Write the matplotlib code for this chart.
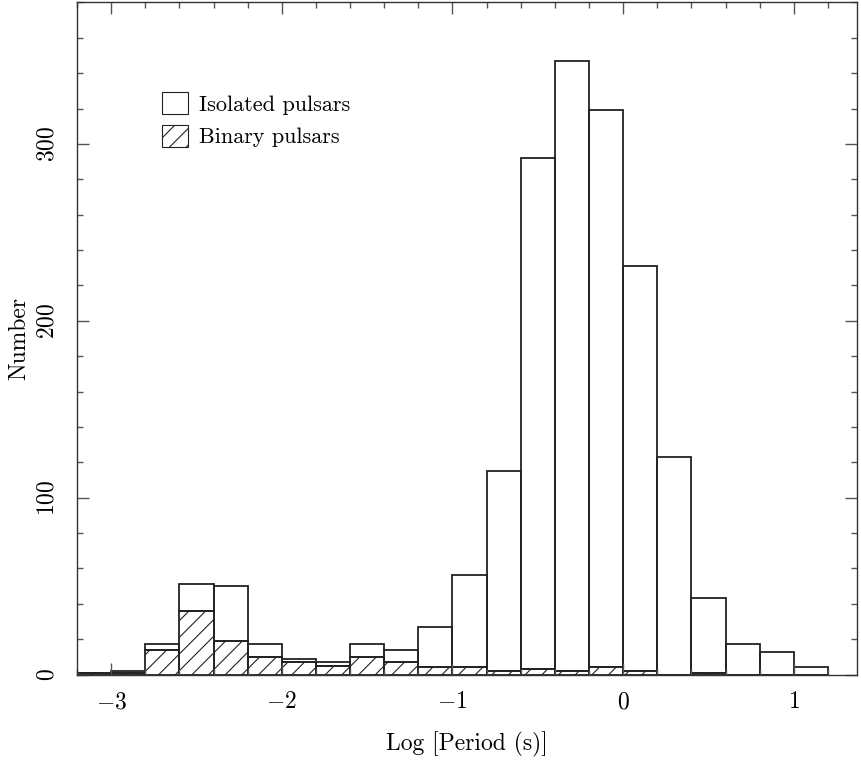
import matplotlib
matplotlib.use("Agg")
import matplotlib.pyplot as plt
from matplotlib.patches import Patch
from matplotlib.ticker import MultipleLocator
import numpy as np

plt.rcParams['font.family'] = 'cmr10'
plt.rcParams['mathtext.fontset'] = 'cm'
plt.rcParams['axes.formatter.use_mathtext'] = True
plt.rcParams['hatch.linewidth'] = 0.8

# left edges of the log(P) bins, width 0.2
bin_left = [-3.2, -3.0, -2.8, -2.6, -2.4, -2.2, -2.0, -1.8, -1.6, -1.4, -1.2,
            -1.0, -0.8, -0.6, -0.4, -0.2, 0.0, 0.2, 0.4, 0.6, 0.8, 1.0]
bin_width = 0.2
# total counts per bin
total = [1, 2, 17, 51, 50, 17, 9, 7, 17, 14, 27,
         56, 115, 292, 347, 319, 231, 123, 43, 17, 13, 4]
# binary pulsars per bin
binary = [1, 1, 14, 36, 19, 10, 7, 5, 10, 7, 4,
          4, 2, 3, 2, 4, 2, 0, 1, 0, 0, 0]

total = np.array(total)
binary = np.array(binary)
isolated = total - binary

ec = '#222222'
fig = plt.figure(figsize=(8.61, 7.62), dpi=100)
ax = fig.add_axes([0.0894, 0.1148, 0.906, 0.882])

ax.bar(bin_left, binary, width=bin_width, align='edge', fill=False,
       edgecolor=ec, linewidth=1.3, hatch='//')
ax.bar(bin_left, isolated, bottom=binary, width=bin_width, align='edge',
       fill=False, edgecolor=ec, linewidth=1.3)

ax.set_xlim(-3.2, 1.37)
ax.set_ylim(0, 380)
ax.xaxis.set_major_locator(MultipleLocator(1))
ax.xaxis.set_minor_locator(MultipleLocator(0.2))
ax.yaxis.set_major_locator(MultipleLocator(100))
ax.yaxis.set_minor_locator(MultipleLocator(20))
ax.tick_params(which='both', direction='in', top=True, right=True,
               color='#555555', width=1.0)
ax.tick_params(which='major', length=8.5)
ax.tick_params(which='minor', length=4.3)
ax.tick_params(axis='x', labelsize=17, pad=12)
ax.tick_params(axis='y', labelsize=17, pad=13, labelrotation=90)
for lbl in ax.get_yticklabels():
    lbl.set_va('center')
for s in ax.spines.values():
    s.set_color('#333333')
    s.set_linewidth(1.0)

ax.set_xlabel('Log [Period (s)]', fontsize=17, labelpad=13)
ax.set_ylabel('Number', fontsize=17, labelpad=5)

handles = [Patch(facecolor='none', edgecolor=ec, linewidth=0.8, label='Isolated pulsars'),
           Patch(facecolor='none', edgecolor=ec, linewidth=0.8, hatch='//', label='Binary pulsars')]
ax.legend(handles=handles, loc='upper left', bbox_to_anchor=(0.083, 0.896),
          frameon=False, fontsize=16, handlelength=1.2, handleheight=1.15,
          handletextpad=0.5, labelspacing=0.45)

fig.savefig('out.png', dpi=100)
